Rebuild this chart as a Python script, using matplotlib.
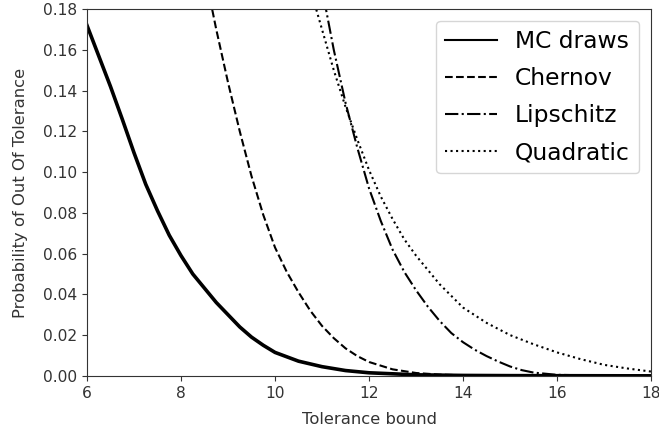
import matplotlib
matplotlib.use('Agg')
import matplotlib.pyplot as plt

# values
mc_x = [6.0, 6.25, 6.5, 6.75, 7.0, 7.25, 7.5, 7.75, 8.0, 8.25, 8.5, 8.75, 9.0, 9.25, 9.5, 9.75, 10.0,
        10.5, 11.0, 11.5, 12.0, 13.0, 14.0, 15.0, 18.0]
mc_y = [0.172, 0.157, 0.142, 0.126, 0.1095, 0.094, 0.081, 0.069, 0.059, 0.050, 0.043, 0.036, 0.030, 0.024,
        0.019, 0.015, 0.0115, 0.0072, 0.0045, 0.0026, 0.0015, 0.0005, 0.0002, 0.0001, 0.0]

chernov_x = [8.6, 8.75, 9.0, 9.25, 9.5, 9.75, 10.0, 10.25, 10.5, 10.75, 11.0, 11.25, 11.5, 11.75, 12.0,
             12.5, 13.0, 13.5, 14.0, 15.0, 18.0]
chernov_y = [0.187, 0.170, 0.144, 0.120, 0.098, 0.079, 0.063, 0.051, 0.041, 0.032, 0.0245, 0.0185, 0.0135,
             0.0097, 0.0068, 0.0032, 0.0014, 0.0006, 0.0003, 0.0001, 0.0]

lipschitz_x = [11.0, 11.25, 11.5, 11.75, 12.0, 12.25, 12.5, 12.75, 13.0, 13.25, 13.5, 13.75, 14.0, 14.25,
               14.5, 14.75, 15.0, 15.25, 15.5, 16.0, 17.0, 18.0]
lipschitz_y = [0.190, 0.160, 0.134, 0.112, 0.092, 0.076, 0.062, 0.051, 0.042, 0.034, 0.027, 0.021, 0.0165,
               0.0128, 0.0097, 0.0070, 0.0046, 0.0028, 0.0016, 0.0005, 0.0001, 0.0]

quadratic_x = [10.8, 11.0, 11.25, 11.5, 11.75, 12.0, 12.25, 12.5, 12.75, 13.0, 13.5, 14.0, 14.5, 15.0,
               15.5, 16.0, 16.5, 17.0, 17.5, 18.0]
quadratic_y = [0.186, 0.170, 0.150, 0.132, 0.116, 0.101, 0.088, 0.077, 0.067, 0.059, 0.045, 0.0335, 0.026,
               0.020, 0.0155, 0.0115, 0.0082, 0.0054, 0.0036, 0.0021]

fig = plt.figure(figsize=(6.59, 4.33), dpi=100)
ax = fig.add_axes([0.132, 0.132, 0.856, 0.847])

ax.plot(mc_x, mc_y, color='black', linestyle='-', linewidth=2.6, label='MC draws')
ax.plot(chernov_x, chernov_y, color='black', linestyle='--', linewidth=1.5, label='Chernov')
ax.plot(lipschitz_x, lipschitz_y, color='black', linestyle='-.', linewidth=1.5, label='Lipschitz')
ax.plot(quadratic_x, quadratic_y, color='black', linestyle=':', linewidth=1.5, label='Quadratic')

ax.set_xlim(6, 18)
ax.set_ylim(0, 0.18)
ax.set_xticks([6, 8, 10, 12, 14, 16, 18])
ax.set_yticks([0.00, 0.02, 0.04, 0.06, 0.08, 0.10, 0.12, 0.14, 0.16, 0.18])
ax.tick_params(labelsize=11.2, colors='#333333')
ax.set_xlabel('Tolerance bound', fontsize=11.8, color='#333333', labelpad=8)
ax.set_ylabel('Probability of Out Of Tolerance', fontsize=11.8, color='#333333', labelpad=11)
for s in ax.spines.values():
    s.set_color('#333333')

leg = ax.legend(loc='upper right', fontsize=16.8, labelspacing=0.6, handlelength=2.2)
for t in leg.get_lines():
    t.set_linewidth(1.5)

plt.savefig('out.png', dpi=100)
